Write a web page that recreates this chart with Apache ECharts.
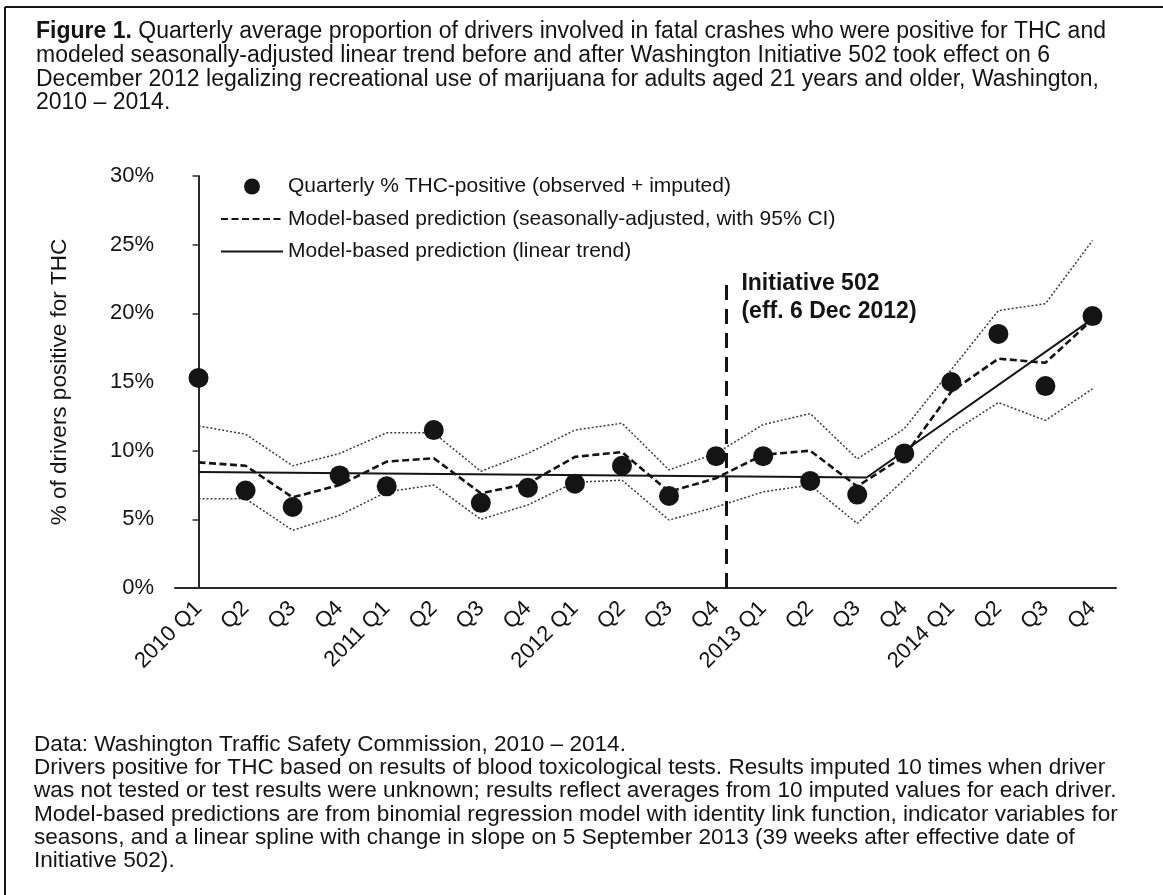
<!DOCTYPE html>
<html>
<head>
<meta charset="utf-8">
<title>THC-positive drivers in fatal crashes, Washington 2010–2014</title>
<script src="https://cdn.jsdelivr.net/npm/echarts@6/dist/echarts.min.js"></script>
<style>
  html, body { margin: 0; padding: 0; background: #ffffff; }
  #chart { width: 1163px; height: 895px; }
</style>
</head>
<body>
<div id="chart"></div>
<script>
// Quarter tick labels (year shown on each Q1)
const quarterLabels = ['2010 Q1', 'Q2', 'Q3', 'Q4', '2011 Q1', 'Q2', 'Q3', 'Q4',
  '2012 Q1', 'Q2', 'Q3', 'Q4', '2013 Q1', 'Q2', 'Q3', 'Q4', '2014 Q1', 'Q2', 'Q3', 'Q4'];

// Quarterly % THC-positive (observed + imputed)
const observedPct = [15.3, 7.1, 5.9, 8.2, 7.4, 11.5, 6.2, 7.3, 7.6, 8.9,
  6.7, 9.6, 9.6, 7.8, 6.8, 9.8, 15.0, 18.5, 14.7, 19.8];

// Seasonally-adjusted model prediction and its 95% CI
const seasonalPct = [9.15, 8.9, 6.6, 7.5, 9.2, 9.45, 6.9, 7.6, 9.55, 9.9,
  7.0, 8.0, 9.7, 10.0, 7.4, 9.6, 14.3, 16.7, 16.4, 19.55];
const ciUpperPct = [11.8, 11.2, 8.9, 9.8, 11.3, 11.3, 8.5, 9.8, 11.5, 12.0,
  8.6, 9.8, 11.9, 12.7, 9.4, 11.6, 15.9, 20.2, 20.7, 25.3];
const ciLowerPct = [6.5, 6.5, 4.2, 5.3, 7.0, 7.5, 5.0, 6.05, 7.7, 7.85,
  4.95, 5.9, 7.0, 7.5, 4.7, 7.9, 11.3, 13.5, 12.2, 14.5];

// Linear trend with a spline knot (quarter index position, % value)
const trendQuarterPos = [0, 14.2, 19];
const trendPct = [8.45, 8.05, 19.6];

// Initiative 502 effective date (6 Dec 2012) as a quarter-index position
const initiativePos = 11.22;
const initiativeTopPct = 22.4;

// Y-axis ticks
const yMin = 0, yMax = 30, yStep = 5;

const FONT = '"Liberation Sans", Arial, Helvetica, sans-serif';
const INK = '#141414';

const nameObserved = 'Quarterly % THC-positive (observed + imputed)';
const nameSeasonal = 'Model-based prediction (seasonally-adjusted, with 95% CI)';
const nameTrend = 'Model-based prediction (linear trend)';

const chart = echarts.init(document.getElementById('chart'), null, { renderer: 'canvas' });

chart.setOption({
  backgroundColor: '#ffffff',
  animation: false,
  title: [
    {
      left: 36,
      top: 20,
      padding: 0,
      text: '{b|Figure 1.} Quarterly average proportion of drivers involved in fatal crashes who were positive for THC and\n' +
        'modeled seasonally-adjusted linear trend before and after Washington Initiative 502 took effect on 6\n' +
        'December 2012 legalizing recreational use of marijuana for adults aged 21 years and older, Washington,\n' +
        '2010 – 2014.',
      textStyle: {
        fontFamily: FONT, fontSize: 23, fontWeight: 'normal', color: INK, lineHeight: 23.7,
        rich: { b: { fontFamily: FONT, fontSize: 23, fontWeight: 'bold', color: INK, lineHeight: 23.7 } }
      }
    },
    {
      left: 34,
      top: 733,
      padding: 0,
      text: 'Data: Washington Traffic Safety Commission, 2010 – 2014.\n' +
        'Drivers positive for THC based on results of blood toxicological tests. Results imputed 10 times when driver\n' +
        'was not tested or test results were unknown; results reflect averages from 10 imputed values for each driver.\n' +
        'Model-based predictions are from binomial regression model with identity link function, indicator variables for\n' +
        'seasons, and a linear spline with change in slope on 5 September 2013 (39 weeks after effective date of\n' +
        'Initiative 502).',
      textStyle: { fontFamily: FONT, fontSize: 22.6, fontWeight: 'normal', color: INK, lineHeight: 23.3 }
    }
  ],
  graphic: [
    { type: 'line', shape: { x1: 5, y1: 7, x2: 1163, y2: 7 }, style: { stroke: INK, lineWidth: 2 } },
    { type: 'line', shape: { x1: 5, y1: 7, x2: 5, y2: 895 }, style: { stroke: INK, lineWidth: 2 } }
  ],
  legend: {
    data: [
      nameObserved,
      { name: nameSeasonal, itemStyle: { opacity: 0 } },
      { name: nameTrend, itemStyle: { opacity: 0 } }
    ],
    orient: 'vertical',
    left: 220,
    top: 176,
    padding: 0,
    itemWidth: 62,
    itemHeight: 16,
    itemGap: 11.5,
    selectedMode: false,
    textStyle: { fontFamily: FONT, fontSize: 21, color: INK }
  },
  grid: { left: 175, right: 47, top: 176, bottom: 307, containLabel: false },
  xAxis: [
    {
      type: 'category',
      data: quarterLabels,
      boundaryGap: true,
      axisLine: { lineStyle: { color: '#2a2a2a', width: 2 } },
      axisTick: { length: 6, lineStyle: { color: '#2a2a2a', width: 1.5 } },
      axisLabel: { rotate: 45, interval: 0, margin: 17, fontFamily: FONT, fontSize: 22, color: INK },
      splitLine: { show: false }
    },
    { type: 'value', min: -0.5, max: 19.5, show: false }
  ],
  yAxis: {
    type: 'value',
    min: yMin,
    max: yMax,
    interval: yStep,
    name: '% of drivers positive for THC',
    nameLocation: 'middle',
    nameRotate: 90,
    nameGap: 104,
    nameTextStyle: { fontFamily: FONT, fontSize: 22.5, color: INK },
    axisLine: { show: true, lineStyle: { color: '#2a2a2a', width: 2 } },
    axisTick: { show: true, length: 6, lineStyle: { color: '#2a2a2a', width: 1.5 } },
    axisLabel: { formatter: '{value}%', margin: 21, fontFamily: FONT, fontSize: 22, color: INK },
    splitLine: { show: false }
  },
  series: [
    {
      name: 'CI upper',
      type: 'line',
      data: ciUpperPct,
      symbol: 'none',
      z: 2,
      lineStyle: { color: '#3a3a3a', width: 1.5, type: [2, 2] }
    },
    {
      name: 'CI lower',
      type: 'line',
      data: ciLowerPct,
      symbol: 'none',
      z: 2,
      lineStyle: { color: '#3a3a3a', width: 1.5, type: [2, 2] }
    },
    {
      name: nameSeasonal,
      type: 'line',
      data: seasonalPct,
      symbol: 'none',
      z: 3,
      itemStyle: { color: INK },
      lineStyle: { color: INK, width: 2.6, type: [7, 3.5] }
    },
    {
      name: nameTrend,
      type: 'line',
      xAxisIndex: 1,
      data: trendQuarterPos.map((q, i) => [q, trendPct[i]]),
      symbol: 'none',
      z: 4,
      itemStyle: { color: INK },
      lineStyle: { color: INK, width: 2 },
      markLine: {
        silent: true,
        symbol: 'none',
        label: { show: false },
        lineStyle: { color: INK, width: 3, type: [15, 9] },
        data: [[{ coord: [initiativePos, yMin] }, { coord: [initiativePos, initiativeTopPct] }]]
      },
      markPoint: {
        silent: true,
        symbol: 'circle',
        symbolSize: 0,
        data: [{
          coord: [initiativePos, initiativeTopPct],
          label: {
            show: true,
            position: [15, -11],
            formatter: 'Initiative 502\n(eff. 6 Dec 2012)',
            fontFamily: FONT,
            fontSize: 23,
            fontWeight: 'bold',
            lineHeight: 28,
            color: INK
          }
        }]
      }
    },
    {
      name: nameObserved,
      type: 'scatter',
      data: observedPct,
      symbol: 'circle',
      symbolSize: 20,
      z: 5,
      itemStyle: { color: INK, opacity: 1 }
    }
  ]
});
</script>
</body>
</html>
